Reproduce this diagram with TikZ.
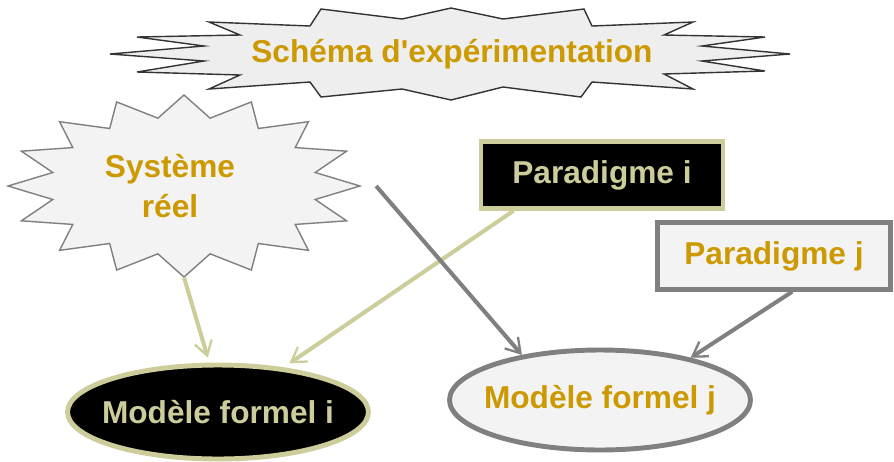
\documentclass[tikz,border=0pt]{standalone}
\usepackage{fontspec}
\setmainfont{Liberation Sans}
\usetikzlibrary{arrows.meta,shapes.geometric}
\definecolor{kaki}{RGB}{205,205,155}
\definecolor{ocre}{RGB}{204,153,0}
\definecolor{gris}{RGB}{128,128,128}
\definecolor{fond}{RGB}{243,243,243}
\definecolor{fondtitre}{RGB}{238,238,238}
\definecolor{traittitre}{RGB}{51,51,51}

\begin{document}
\begin{tikzpicture}[
  x=0.02cm,y=-0.02cm,
  txt/.style={font=\bfseries\fontsize{18}{22.8}\selectfont,text=ocre,inner sep=0pt,align=center},
  parabox/.style={txt,draw,line width=2.8pt,minimum height=1.33cm},
  modele/.style={txt,ellipse,draw,line width=2.8pt,inner xsep=-6pt,minimum width=6.02cm},
  arr/.style={-{Straight Barb[length=8pt,width=10pt,line width=1.3pt]},line width=2.3pt}
]
\useasboundingbox (0,0) rectangle (894,461);
\fill[white] (0,0) rectangle (894,461);

\draw[draw=traittitre,fill=fondtitre,line width=0.8pt]
  (451,8) -- (503,19) -- (584,9) -- (592,26) -- (693,22) -- (664,35) -- (765,37) -- (702,46)
  -- (790,54) -- (702,61) -- (765,71) -- (664,74) -- (693,89) -- (592,82) -- (581,97) -- (503,87)
  -- (451,100) -- (402,89) -- (321,97) -- (310,82) -- (209,89) -- (240,75) -- (137,72) -- (204,61)
  -- (110,54) -- (204,46) -- (137,37) -- (240,35) -- (209,22) -- (310,26) -- (321,9) -- (402,19) -- cycle;
\node[txt] (titre) at (452,54) {Schéma d\textquotesingle expérimentation};

\node[ellipse,minimum width=7.04cm,minimum height=3.64cm,inner sep=0pt] (etoile) at (184,186) {};
\draw[gris,fill=fond,line width=0.8pt]
  plot[samples at={0,...,31}] ({184+176*(1-0.24*mod(\x,2))*cos(90-11.25*\x)},{186-91*(1-0.24*mod(\x,2))*sin(90-11.25*\x)}) -- cycle;
\node[txt] (sys) at (170,186) {Système\\réel};

\node[parabox,fill=black,draw=kaki,text=kaki,minimum width=4.84cm] (parai) at (602,175) {Paradigme i};
\node[parabox,fill=fond,draw=gris,minimum width=4.67cm] (paraj) at (774,256) {Paradigme j};

\node[modele,fill=black,draw=kaki,text=kaki,minimum height=1.88cm] (modi) at (218,412) {Modèle formel i};
\node[modele,fill=fond,draw=gris,minimum height=2cm] (modj) at (600,400) {Modèle formel j};

\draw[arr,kaki,shorten >=3pt] (etoile.south) -- (modi.100);
\draw[arr,kaki,shorten >=4pt] (parai.-158) -- (modi);
\draw[arr,gris] ([xshift=9pt]etoile.east) -- (modj.150);
\draw[arr,gris] (paraj.-63) -- (modj.25);
\end{tikzpicture}
\end{document}
